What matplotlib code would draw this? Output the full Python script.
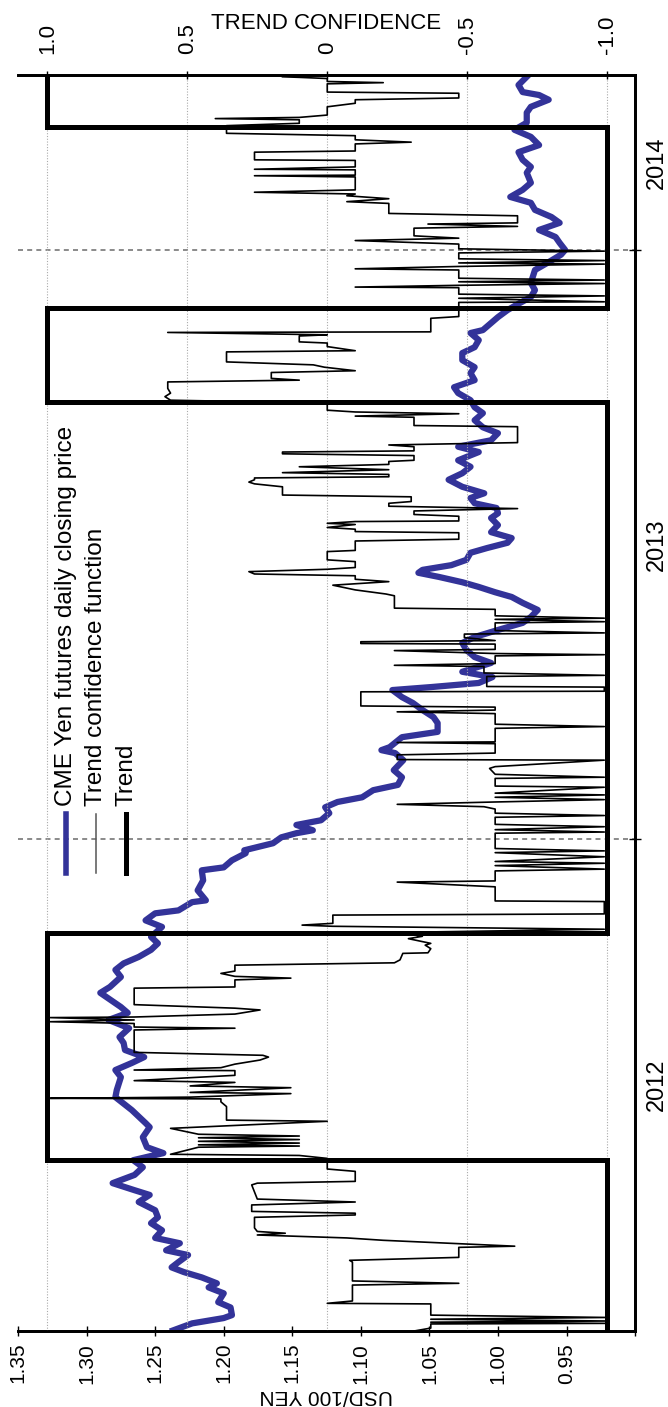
import numpy as np
import matplotlib.pyplot as plt
from matplotlib.lines import Line2D

plt.rcParams['font.family'] = ['Liberation Sans', 'DejaVu Sans']

# CME yen futures daily close (USD per 100 yen); time in decimal years
price_t = [2012.166, 2012.178, 2012.187, 2012.192, 2012.205, 2012.214, 2012.229, 2012.239,
           2012.246, 2012.256, 2012.265, 2012.273, 2012.282, 2012.294, 2012.302, 2012.314,
           2012.323, 2012.336, 2012.348, 2012.358, 2012.370, 2012.384, 2012.396, 2012.404,
           2012.416, 2012.430, 2012.443, 2012.455, 2012.467, 2012.477, 2012.494, 2012.511,
           2012.518, 2012.540, 2012.562, 2012.574, 2012.596, 2012.608, 2012.620, 2012.630,
           2012.642, 2012.654, 2012.664, 2012.679, 2012.693, 2012.705, 2012.715, 2012.739,
           2012.749, 2012.766, 2012.778, 2012.789, 2012.800, 2012.812, 2012.823, 2012.834,
           2012.851, 2012.862, 2012.874, 2012.879, 2012.893, 2012.896, 2012.913, 2012.930,
           2012.947, 2012.952, 2012.964, 2012.976, 2012.981, 2012.993, 2013.003, 2013.010,
           2013.015, 2013.024, 2013.032, 2013.044, 2013.054, 2013.063, 2013.071, 2013.083,
           2013.092, 2013.105, 2013.117, 2013.134, 2013.146, 2013.151, 2013.156, 2013.173,
           2013.182, 2013.197, 2013.207, 2013.219, 2013.231, 2013.241, 2013.253, 2013.258,
           2013.265, 2013.275, 2013.284, 2013.299, 2013.309, 2013.321, 2013.333, 2013.343,
           2013.355, 2013.367, 2013.377, 2013.389, 2013.401, 2013.411, 2013.419, 2013.428,
           2013.436, 2013.445, 2013.452, 2013.457, 2013.465, 2013.474, 2013.486, 2013.494,
           2013.503, 2013.511, 2013.521, 2013.533, 2013.545, 2013.553, 2013.562, 2013.570,
           2013.579, 2013.587, 2013.598, 2013.610, 2013.621, 2013.632, 2013.643, 2013.657,
           2013.666, 2013.677, 2013.689, 2013.699, 2013.711, 2013.723, 2013.733, 2013.745,
           2013.757, 2013.767, 2013.779, 2013.791, 2013.801, 2013.813, 2013.825, 2013.835,
           2013.847, 2013.859, 2013.864, 2013.876, 2013.886, 2013.898, 2013.910, 2013.920,
           2013.932, 2013.944, 2013.966, 2013.978, 2013.992, 2014.000, 2014.012, 2014.022,
           2014.034, 2014.046, 2014.056, 2014.068, 2014.080, 2014.090, 2014.102, 2014.114,
           2014.131, 2014.141, 2014.153, 2014.166, 2014.178, 2014.192, 2014.204, 2014.216,
           2014.233, 2014.243, 2014.255, 2014.263, 2014.268, 2014.280, 2014.294]
price = [1.237, 1.223, 1.200, 1.194, 1.195, 1.204, 1.200, 1.211,
         1.205, 1.216, 1.229, 1.238, 1.233, 1.226, 1.242, 1.232,
         1.250, 1.245, 1.253, 1.248, 1.250, 1.262, 1.254, 1.265,
         1.281, 1.265, 1.259, 1.266, 1.244, 1.256, 1.259, 1.254,
         1.257, 1.267, 1.279, 1.278, 1.275, 1.279, 1.267, 1.258,
         1.272, 1.273, 1.276, 1.269, 1.284, 1.270, 1.275, 1.290,
         1.283, 1.275, 1.279, 1.273, 1.262, 1.253, 1.248, 1.253,
         1.245, 1.257, 1.250, 1.233, 1.223, 1.213, 1.219, 1.215,
         1.216, 1.200, 1.194, 1.184, 1.185, 1.164, 1.158, 1.147,
         1.135, 1.147, 1.129, 1.123, 1.126, 1.117, 1.099, 1.091,
         1.073, 1.070, 1.076, 1.069, 1.075, 1.085, 1.079, 1.070,
         1.044, 1.044, 1.047, 1.055, 1.062, 1.070, 1.077, 1.049,
         1.014, 1.004, 1.026, 1.005, 1.017, 1.023, 1.026, 1.017,
         1.000, 0.982, 0.976, 0.971, 0.982, 0.990, 1.002, 1.014,
         1.026, 1.043, 1.058, 1.055, 1.034, 1.023, 1.020, 1.008,
         0.993, 0.990, 1.005, 1.000, 1.005, 1.000, 1.001, 1.017,
         1.020, 1.010, 1.026, 1.036, 1.026, 1.020, 1.029, 1.014,
         1.029, 1.005, 1.000, 1.011, 1.017, 1.011, 1.017, 1.020,
         1.029, 1.032, 1.017, 1.020, 1.017, 1.026, 1.026, 1.017,
         1.014, 1.020, 1.011, 1.005, 1.000, 0.993, 0.984, 0.976,
         0.973, 0.976, 0.973, 0.964, 0.954, 0.951, 0.955, 0.958,
         0.970, 0.955, 0.961, 0.973, 0.976, 0.991, 0.982, 0.976,
         0.979, 0.976, 0.982, 0.985, 0.970, 0.976, 0.988, 0.979,
         0.979, 0.976, 0.963, 0.970, 0.982, 0.985, 0.979]

# trend confidence function, -1 .. 1
conf_t = [2012.165, 2012.170, 2012.177, 2012.178, 2012.180, 2012.182, 2012.185, 2012.188,
          2012.192, 2012.211, 2012.212, 2012.216, 2012.243, 2012.246, 2012.250, 2012.282,
          2012.285, 2012.290, 2012.307, 2012.309, 2012.319, 2012.323, 2012.328, 2012.331,
          2012.334, 2012.340, 2012.358, 2012.362, 2012.365, 2012.368, 2012.379, 2012.384,
          2012.389, 2012.413, 2012.416, 2012.419, 2012.436, 2012.440, 2012.458, 2012.463,
          2012.465, 2012.477, 2012.479, 2012.481, 2012.484, 2012.487, 2012.490, 2012.493,
          2012.496, 2012.499, 2012.509, 2012.521,
          2012.523, 2012.546, 2012.554, 2012.559, 2012.560, 2012.562, 2012.568, 2012.570,
          2012.578, 2012.581, 2012.587, 2012.590, 2012.599, 2012.607, 2012.608, 2012.612,
          2012.618, 2012.625, 2012.630, 2012.633, 2012.638, 2012.676, 2012.679, 2012.681,
          2012.687, 2012.690, 2012.693, 2012.697, 2012.698, 2012.703, 2012.710, 2012.713,
          2012.719, 2012.747, 2012.749, 2012.761, 2012.764, 2012.767, 2012.772, 2012.776,
          2012.786, 2012.790, 2012.795, 2012.806, 2012.807, 2012.814, 2012.820, 2012.823,
          2012.831, 2012.835, 2012.839, 2012.842, 2012.847, 2012.852, 2012.854, 2012.857,
          2012.871, 2012.873,
          2012.894, 2012.895, 2012.919, 2012.927, 2012.929, 2012.946, 2012.949, 2012.955,
          2012.959, 2012.962, 2012.970, 2012.977, 2012.980, 2012.984, 2013.010, 2013.012,
          2013.016, 2013.021, 2013.025, 2013.037, 2013.040, 2013.044, 2013.051, 2013.055,
          2013.059, 2013.063, 2013.067, 2013.071, 2013.075, 2013.078, 2013.088, 2013.090,
          2013.103, 2013.105, 2013.110, 2013.120, 2013.123, 2013.134, 2013.135, 2013.143,
          2013.146, 2013.162, 2013.164, 2013.165, 2013.188, 2013.191, 2013.195, 2013.213,
          2013.216, 2013.219, 2013.224, 2013.226,
          2013.250, 2013.251, 2013.258, 2013.259, 2013.276, 2013.278, 2013.282, 2013.293,
          2013.295, 2013.298, 2013.311, 2013.313, 2013.315, 2013.320, 2013.322, 2013.331,
          2013.332, 2013.335, 2013.337, 2013.342, 2013.348, 2013.350, 2013.354, 2013.367,
          2013.369, 2013.373, 2013.375, 2013.379, 2013.390, 2013.392, 2013.413, 2013.416,
          2013.423, 2013.431, 2013.437, 2013.441, 2013.447, 2013.450, 2013.454, 2013.458,
          2013.461, 2013.471, 2013.474, 2013.488, 2013.490, 2013.506, 2013.509, 2013.520,
          2013.522, 2013.526, 2013.529, 2013.534, 2013.536, 2013.539, 2013.540, 2013.548,
          2013.551, 2013.557, 2013.561, 2013.565, 2013.570, 2013.573, 2013.581, 2013.584,
          2013.598, 2013.603, 2013.606, 2013.610, 2013.613, 2013.615, 2013.619, 2013.622,
          2013.627, 2013.632, 2013.636, 2013.641, 2013.643, 2013.651, 2013.654, 2013.657,
          2013.659, 2013.666, 2013.669, 2013.673, 2013.700, 2013.702, 2013.716, 2013.718,
          2013.722, 2013.725, 2013.728, 2013.740,
          2013.745, 2013.751, 2013.757, 2013.765, 2013.776, 2013.779, 2013.782, 2013.792,
          2013.795, 2013.801, 2013.805, 2013.810, 2013.827, 2013.829, 2013.836, 2013.842,
          2013.844, 2013.854, 2013.856, 2013.860, 2013.861, 2013.884, 2013.887,
          2013.911, 2013.912, 2013.918, 2013.922, 2013.925, 2013.936, 2013.937, 2013.940,
          2013.943, 2013.946, 2013.949, 2013.952, 2013.966, 2013.968, 2013.972, 2013.976,
          2013.978, 2013.982, 2013.985, 2013.995, 2013.998, 2014.002, 2014.010, 2014.016,
          2014.020, 2014.024, 2014.037, 2014.040, 2014.044, 2014.046, 2014.058, 2014.062,
          2014.079, 2014.082, 2014.087, 2014.092, 2014.095, 2014.098, 2014.102, 2014.124,
          2014.126, 2014.127, 2014.136, 2014.137, 2014.141, 2014.152, 2014.153, 2014.166,
          2014.168, 2014.180, 2014.183, 2014.187, 2014.194, 2014.198, 2014.207,
          2014.211, 2014.215, 2014.221, 2014.223, 2014.225, 2014.229, 2014.243, 2014.249,
          2014.255, 2014.258, 2014.266, 2014.268, 2014.282, 2014.284, 2014.286, 2014.291,
          2014.293, 2014.294]
conf = [-0.31, -0.37, -0.37, -1.0, -0.37, -1.0, -0.37, -1.0,
        -0.37, -0.37, 0.0, -0.09, -0.09, -0.47, -0.09, -0.09,
        -0.08, -0.47, -0.47, -0.67, -0.20, -0.07, 0.25, 0.15,
        0.25, 0.26, 0.26, -0.10, -0.10, 0.27, 0.27, -0.10,
        0.25, 0.27, 0.25, -0.10, -0.10, 0.0, 0.0, 0.10,
        0.56, 0.46, 0.10, 0.46, 0.10, 0.46, 0.10, 0.46,
        0.10, 0.46, 0.56, 0.0,
        0.36, 0.36, 0.38, 0.38, 0.99, 0.49, 0.13, 0.49,
        0.13, 0.49, 0.33, 0.69, 0.33, 0.33, 0.69, 0.38,
        0.33, 0.24, 0.21, 0.23, 0.69, 0.69, 0.33, 0.69,
        0.69, 0.99, 0.69, 0.99, 0.69, 0.33, 0.24, 0.33,
        0.69, 0.69, 0.33, 0.33, 0.13, 0.33, 0.38, 0.33,
        0.33, -0.24, -0.26, -0.27, -0.36, -0.37, -0.35, -0.37,
        -0.29, -0.34, -0.29, -0.31, -0.99, -0.02, 0.09, -0.02,
        -0.02, -0.99,
        -0.99, -0.60, -0.60, -0.25, -0.60, -0.60, -0.99, -0.60,
        -0.99, -0.60, -0.99, -0.60, -0.99, -0.60, -0.60, -0.99,
        -0.60, -0.99, -0.60, -0.60, -0.99, -0.60, -0.60, -0.56,
        -0.25, -0.60, -0.99, -0.60, -0.99, -0.60, -0.99, -0.60,
        -0.60, -0.99, -0.60, -0.58, -0.60, -0.99, -0.25, -0.25,
        -0.60, -0.60, -0.25, -0.60, -0.60, -0.99, -0.60, -0.60,
        -0.25, -0.60, -0.60, -0.12,
        -0.12, -0.99, -0.99, -0.57, -0.57, -0.99, -0.56, -0.56,
        -0.24, -0.60, -0.60, -0.99, -0.60, -0.24, -0.60, -0.60,
        -0.12, -0.12, -0.60, -0.49, -0.49, -0.99, -0.60, -0.60,
        -0.99, -0.60, -0.99, -0.60, -0.60, -0.24, -0.24, -0.21,
        -0.10, -0.02, -0.22, -0.10, -0.10, 0.26, 0.28, 0.0,
        -0.10, -0.10, 0.0, 0.0, -0.10, -0.10, -0.47, -0.47,
        -0.10, -0.10, 0.0, -0.10, 0.0, -0.10, -0.47, -0.47,
        -0.31, -0.31, -0.68, -0.22, -0.22, -0.30, -0.30, 0.16,
        0.16, 0.26, 0.28, 0.26, 0.26, -0.22, -0.22, 0.16,
        -0.22, 0.10, -0.22, -0.22, -0.31, -0.31, 0.16, 0.16,
        -0.31, -0.31, -0.22, -0.68, -0.68, -0.31, -0.31, -0.10,
        -0.47, -0.10, 0.0, 0.0,
        0.56, 0.58, 0.56, 0.57, 0.57, 0.10, 0.20, 0.20,
        -0.10, 0.01, 0.05, 0.36, 0.36, -0.10, 0.0, 0.0,
        0.10, 0.10, 0.0, 0.57, -0.37, -0.37, -0.47,
        -0.47, -0.99, -0.47, -0.99, -0.47, -0.47, -0.10, -0.47,
        -0.99, -0.47, -0.99, -0.47, -0.47, -0.10, -0.47, -0.99,
        -0.47, -0.99, -0.47, -0.47, -0.99, -0.47, -0.47, -0.10,
        -0.47, -0.31, -0.31, -0.68, -0.36, -0.68, -0.68, -0.22,
        -0.22, -0.07, -0.22, -0.07, -0.10, 0.26, -0.10, -0.10,
        0.26, -0.10, -0.10, 0.26, -0.10, -0.10, 0.26, 0.26,
        -0.10, -0.10, -0.30, -0.10, -0.10, 0.36, 0.36,
        0.36, 0.10, 0.10, 0.40, 0.10, 0.0, 0.0, -0.10,
        -0.10, -0.47, -0.47, 0.0, 0.0, -0.20, 0.0, 0.0,
        0.10, 0.16]

# trend switch dates and the trend sign in between
trend_edges = [2012.165, 2012.455, 2012.840, 2013.742, 2013.902, 2014.209, 2014.297]
trend_sign = [-1, 1, -1, 1, -1, 1]

years = ['2012', '2013', '2014']
year_starts = [2013.0, 2014.0]

price_ticks = [0.90, 0.95, 1.00, 1.05, 1.10, 1.15, 1.20, 1.25, 1.30, 1.35]
price_labels = ['', '0.95', '1.00', '1.05', '1.10', '1.15', '1.20', '1.25', '1.30', '1.35']
conf_ticks = [1.0, 0.5, 0.0, -0.5, -1.0]
conf_labels = ['1.0', '0.5', '0', '-0.5', '-1.0']

t_lo, t_hi = 2012.165, 2014.297
blue = '#333399'

fig = plt.figure(figsize=(6.68, 14.07), dpi=100)
ax = fig.add_axes([0.027, 0.054, 0.9237, 0.8927])

# price on the bottom axis (reversed), time running upwards
ax.plot(price, price_t, color=blue, lw=4.5, solid_joinstyle='round')
ax.set_xlim(1.35, 0.90)
ax.set_ylim(t_lo, t_hi)
ax.set_xticks(price_ticks)
ax.set_xticklabels(price_labels, rotation=90, va='top', ha='center')
ax.tick_params(axis='x', direction='inout', length=7, width=1, labelsize=15, pad=5)
ax.set_xlabel('USD/100 YEN', rotation=180, fontsize=15, va='center')
ax.xaxis.set_label_coords(0.5, -0.051)

# years on the right-hand side, labels centred on each visible year
ax.yaxis.tick_right()
ax.set_yticks(year_starts)
ax.set_yticklabels([])
mids = [(t_lo + 2013) / 2, 2013.5, (2014 + t_hi) / 2]
ax.set_yticks(mids, minor=True)
ax.set_yticklabels(years, minor=True, rotation=90, va='center')
ax.tick_params(axis='y', which='major', direction='inout', length=9, width=1)
ax.tick_params(axis='y', which='minor', length=0, pad=8, labelsize=17)
ax.grid(axis='y', which='major', color='#777777', linestyle=(0, (3, 2.5)), lw=1.2)

ax.spines['left'].set_visible(False)
for s in ['top', 'right', 'bottom']:
    ax.spines[s].set_linewidth(2)

# trend confidence + trend on the top axis
ax2 = ax.twiny()
ax2.plot(conf, conf_t, color='black', lw=1.2)
tx = np.repeat(trend_sign, 2)
ty = np.repeat(trend_edges, 2)[1:-1]
ax2.plot(tx, ty, color='black', lw=3.6, solid_joinstyle='miter')
ax2.set_xlim(1.105, -1.10)
ax2.set_xticks(conf_ticks)
ax2.set_xticklabels(conf_labels, rotation=90, ha='center', va='bottom')
ax2.tick_params(axis='x', direction='inout', length=6, width=1, labelsize=16, pad=12)
ax2.grid(axis='x', color='#aaaaaa', linestyle=(0, (1, 1.5)), lw=0.8)
ax2.set_xlabel('TREND CONFIDENCE', fontsize=16)
ax2.xaxis.set_label_coords(0.5, 1.037)
ax2.spines['left'].set_visible(False)
for s in ['top', 'right', 'bottom']:
    ax2.spines[s].set_linewidth(2)

# legend, written sideways like the rest of the chart
entries = [('CME Yen futures daily closing price', blue, 4.0),
           ('Trend confidence function', '#555555', 1.1),
           ('Trend', 'black', 3.6)]
for i, (txt, col, w) in enumerate(entries):
    x = 0.078 + 0.0486 * i
    ax.add_line(Line2D([x, x], [0.365, 0.412], transform=ax.transAxes, color=col, lw=w))
    ax.text(x, 0.418, txt, transform=ax.transAxes, rotation=90, rotation_mode='anchor',
            ha='left', va='center', fontsize=17.5)

fig.savefig('out.png', dpi=100)
